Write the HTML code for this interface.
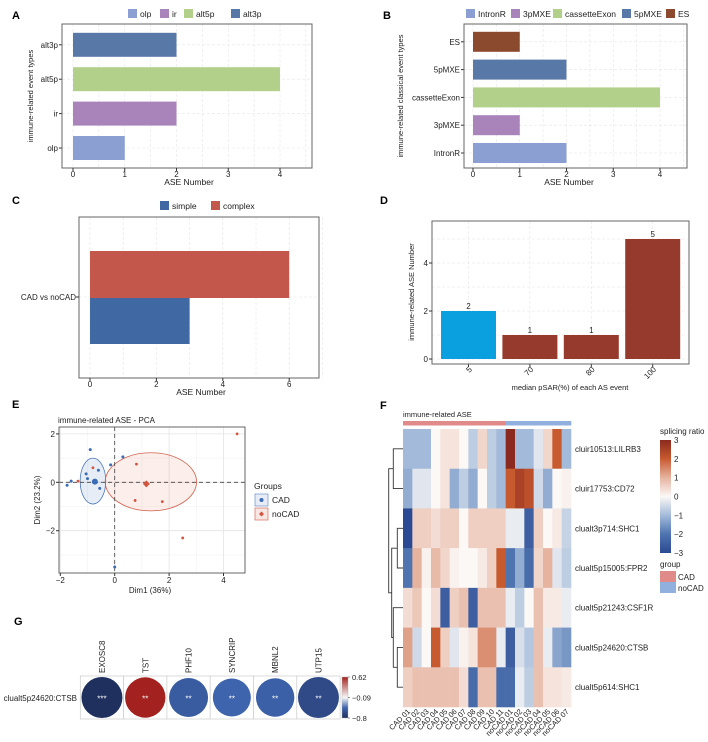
<!DOCTYPE html>
<html><head><meta charset="utf-8"><style>
html,body{margin:0;padding:0;background:#fff;}
svg{display:block;font-family:"Liberation Sans",Arial,sans-serif;}
</style></head><body>
<svg id="fig" width="708" height="742" viewBox="0 0 708 742" xmlns="http://www.w3.org/2000/svg"></svg>
<script>
// ---------- data ----------
const aCats=['olp','ir','alt5p','alt3p'];
const aVals=[1,2,4,2];
const aTicks=[0,1,2,3,4];
const bCats=['IntronR','3pMXE','cassetteExon','5pMXE','ES'];
const bVals=[2,1,4,2,1];
const bTicks=[0,1,2,3,4];
const cGroups=['simple','complex'];
const cVals=[3,6];
const cTicks=[0,2,4,6];
const dCats=['5','70','80','100'];
const dVals=[2,1,1,5];
const dTicks=[0,2,4];
const eCadX=[-1.75,-1.6,-0.9,-1.05,-1.0,-0.75,-0.6,-0.55,-0.15,0.3,0,-0.7];
const eCadY=[-0.12,0.05,1.35,0.35,0.15,0.05,0.5,-0.25,0.72,1.05,-3.5,0.0];
const eNoX=[4.5,2.5,0.8,0.75,1.75,-0.8,-1.35];
const eNoY=[2.0,-2.3,0.75,-0.75,-0.8,0.6,0.05];
const eXTicks=[-2,0,2,4];
const eYTicks=[-2,0,2];
const fRows=['cluir10513:LILRB3','cluir17753:CD72','clualt3p714:SHC1','clualt5p15005:FPR2','clualt5p21243:CSF1R','clualt5p24620:CTSB','clualt5p614:SHC1'];
const fCols=['CAD 01','CAD 02','CAD 03','CAD 04','CAD 05','CAD 06','CAD 07','CAD 08','CAD 09','CAD 10','CAD 11','noCAD 01','noCAD 02','noCAD 03','noCAD 04','noCAD 05','noCAD 06','noCAD 07'];
const fR1=[-1,-1,-1,0,0.3,0.3,0,-0.7,0.5,-0.7,-1,3,-1,-1,-0.3,0.5,2,-1];
const fR2=[-1.2,-0.3,-0.3,0,0.3,-1.2,-0.7,-1.2,0,-0.7,-1,2,2.5,2.2,-0.5,-1.2,0,0.1];
const fR3=[-3,0.6,0.6,0.4,0.6,0.6,0,0.6,0.6,0.6,0.6,-0.2,-0.2,-2.5,0.6,0,0.2,-0.6];
const fR4=[-2,1,0.1,0.9,0.5,0.1,0,0,0.2,0.6,2,-2,-1.2,-2.2,0.5,1,-0.3,-0.7];
const fR5=[0.4,0.7,0,0.4,-2.5,0.6,0.8,-2.5,0.8,0.8,0.8,-0.2,-0.7,0,0.8,0.2,0.2,-0.2];
const fR6=[1.2,-0.5,0,2,0.6,-0.3,0.1,0.3,1.4,1.4,-0.2,-2.5,-0.4,-0.8,0.8,-0.2,-1.3,-1.5];
const fR7=[0.6,0.8,0.8,0.8,0.8,0.8,0.4,-2.2,0.8,0.8,-2.2,-2.2,-0.2,-0.7,0.8,0.3,0.3,0.2];
const fLegendTicks=[3,2,1,0,-1,-2,-3];
const gGenes=['EXOSC8','TST','PHF10','SYNCRIP','MBNL2','UTP15'];
const gCorr=[-0.8,0.62,-0.55,-0.5,-0.52,-0.65];
const gSig=['***','**','**','**','**','**'];
const gTicks=[0.62,-0.09,-0.8];

// ---------- helpers ----------
const NS='http://www.w3.org/2000/svg';
const svg=document.getElementById('fig');
function mk(tag,attrs,parent){const e=document.createElementNS(NS,tag);for(const k in attrs)e.setAttribute(k,attrs[k]);(parent||svg).appendChild(e);return e;}
function tx(x,y,s,size,anchor,extra){const e=mk('text',Object.assign({x:x,y:y,'font-size':size,'text-anchor':anchor||'start',fill:'#222'},extra||{}));e.textContent=s;return e;}
function hex(c){return [parseInt(c.slice(1,3),16),parseInt(c.slice(3,5),16),parseInt(c.slice(5,7),16)];}
function lerpStops(stops,cols,v){if(v<=stops[0])return cols[0];for(let i=1;i<stops.length;i++){if(v<=stops[i]){const t=(v-stops[i-1])/(stops[i]-stops[i-1]);const a=hex(cols[i-1]),b=hex(cols[i]);return 'rgb('+a.map((q,j)=>Math.round(q+(b[j]-q)*t)).join(',')+')';}}return cols[cols.length-1];}
function panelBox(x1,y1,x2,y2,name){const e=mk('rect',{x:x1,y:y1,width:x2-x1,height:y2-y1,fill:'none',stroke:'#666','stroke-width':1});return e;}
function letter(x,y,s){const e=tx(x,y,s,11,'start',{'font-weight':'bold',fill:'#000'});}

// ---------- Panel A ----------
letter(12,19,'A');
const aCol=['#8b9fd2','#a884bb','#b3d08a','#5878a8'];
const xA=v=>73+v*51.75, yA=i=>148-i*34.4;
for(let v=0;v<=4.5;v+=0.5){const g=mk('line',{x1:xA(v),x2:xA(v),y1:24,y2:168,stroke:'#e6e6e6','stroke-dasharray':'3,2','stroke-width':0.6});}
aCats.forEach((c,i)=>{const g=mk('line',{x1:62,x2:312,y1:yA(i),y2:yA(i),stroke:'#e6e6e6','stroke-dasharray':'3,2','stroke-width':0.6});});
aCats.forEach((c,i)=>{const b=mk('rect',{x:xA(0),y:yA(i)-12,width:xA(aVals[i])-xA(0),height:24,fill:aCol[i]});
 const t=tx(58,yA(i)+3,c,8,'end');
 mk('line',{x1:59,x2:62,y1:yA(i),y2:yA(i),stroke:'#333'});});
panelBox(62,24,312,168,'a-plot-frame');
aTicks.forEach(v=>{const t=tx(xA(v),177,String(v),8,'middle');mk('line',{x1:xA(v),x2:xA(v),y1:168,y2:171,stroke:'#333'});});
{const t=tx(189,185,'ASE Number',8.5,'middle');
 const y=tx(0,0,'immune-related event types',7.5,'middle',{transform:'translate(33,96) rotate(-90)'});}
{const lx=[128,160,184,231];aCats.forEach((c,i)=>{const r=mk('rect',{x:lx[i],y:9,width:9,height:9,fill:aCol[i]});const t=tx(lx[i]+12,17,c,8.5);});}

// ---------- Panel B ----------
letter(383,19,'B');
const bCol=['#8b9fd2','#a884bb','#b3d08a','#5878a8','#8b4a2e'];
const xB=v=>473+v*46.75, yB=i=>153-i*27.8;
for(let v=0;v<=4.5;v+=0.5){const g=mk('line',{x1:xB(v),x2:xB(v),y1:24,y2:168,stroke:'#e6e6e6','stroke-dasharray':'3,2','stroke-width':0.6});}
bCats.forEach((c,i)=>{const g=mk('line',{x1:464,x2:687,y1:yB(i),y2:yB(i),stroke:'#e6e6e6','stroke-dasharray':'3,2','stroke-width':0.6});});
bCats.forEach((c,i)=>{const b=mk('rect',{x:xB(0),y:yB(i)-10,width:xB(bVals[i])-xB(0),height:20,fill:bCol[i]});
 const t=tx(460,yB(i)+3,c,8,'end');
 mk('line',{x1:461,x2:464,y1:yB(i),y2:yB(i),stroke:'#333'});});
panelBox(464,24,687,168,'b-plot-frame');
bTicks.forEach(v=>{const t=tx(xB(v),177,String(v),8,'middle');mk('line',{x1:xB(v),x2:xB(v),y1:168,y2:171,stroke:'#333'});});
{const t=tx(569,185,'ASE Number',8.5,'middle');
 const y=tx(0,0,'immune-related classical event types',7.5,'middle',{transform:'translate(403,96) rotate(-90)'});}
{const lx=[466,511,553,622,666];bCats.forEach((c,i)=>{const r=mk('rect',{x:lx[i],y:9,width:9,height:9,fill:bCol[i]});const t=tx(lx[i]+12,17,c,8.5);});}

// ---------- Panel C ----------
letter(12,204,'C');
const cCol=['#4068a2','#c4574b'];
const xC=v=>90+v*33.2;
for(let v=0;v<=7;v+=1){const g=mk('line',{x1:xC(v),x2:xC(v),y1:217,y2:378,stroke:'#e6e6e6','stroke-dasharray':'3,2','stroke-width':0.6});}
{const g=mk('line',{x1:79,x2:319,y1:297,y2:297,stroke:'#e6e6e6','stroke-dasharray':'3,2','stroke-width':0.6});}
cGroups.forEach((c,i)=>{const y0=i===1?251:297;const b=mk('rect',{x:xC(0),y:y0,width:xC(cVals[i])-xC(0),height:47,fill:cCol[i]});});
panelBox(79,217,319,378,'c-plot-frame');
{const t=tx(76,300,'CAD vs noCAD',8,'end');mk('line',{x1:76,x2:79,y1:297,y2:297,stroke:'#333'});}
cTicks.forEach(v=>{const t=tx(xC(v),387,String(v),8,'middle');mk('line',{x1:xC(v),x2:xC(v),y1:378,y2:381,stroke:'#333'});});
{const t=tx(201,395,'ASE Number',8.5,'middle');}
{const lx=[160,211];cGroups.forEach((c,i)=>{const r=mk('rect',{x:lx[i],y:201,width:9,height:9,fill:cCol[i]});const t=tx(lx[i]+12,209,c,8.5);});}

// ---------- Panel D ----------
letter(380,204,'D');
const dCol=['#0aa0e0','#953a2c','#953a2c','#953a2c'];
const yD=v=>359-v*24, xD=i=>468.5+i*61.4;
for(let v=0;v<=5;v+=1){const g=mk('line',{x1:432,x2:689,y1:yD(v),y2:yD(v),stroke:'#e6e6e6','stroke-dasharray':'3,2','stroke-width':0.6});}
dCats.forEach((c,i)=>{const g=mk('line',{x1:xD(i),x2:xD(i),y1:221,y2:364,stroke:'#e6e6e6','stroke-dasharray':'3,2','stroke-width':0.6});});
dCats.forEach((c,i)=>{const b=mk('rect',{x:xD(i)-27.5,y:yD(dVals[i]),width:55,height:yD(0)-yD(dVals[i]),fill:dCol[i]});
 const v=tx(xD(i),yD(dVals[i])-2,String(dVals[i]),8,'middle');
 const t=tx(0,0,c,8,'end',{transform:'translate('+(xD(i)+4)+',370) rotate(-45)'});
 mk('line',{x1:xD(i),x2:xD(i),y1:364,y2:367,stroke:'#333'});});
panelBox(432,221,689,364,'d-plot-frame');
dTicks.forEach(v=>{const t=tx(428,yD(v)+3,String(v),8,'end');mk('line',{x1:429,x2:432,y1:yD(v),y2:yD(v),stroke:'#333'});});
{const t=tx(570,390,'median pSAR(%) of each AS event',7.5,'middle');
 const y=tx(0,0,'immune-related ASE Number',7.5,'middle',{transform:'translate(414,292) rotate(-90)'});}

// ---------- Panel E ----------
letter(12,408,'E');
const xE=v=>114.7+v*27.2, yE=v=>482.3-v*24.2;
{const t=tx(58,423,'immune-related ASE - PCA',8,'start');}
{const clip=mk('clipPath',{id:'eclip'});mk('rect',{x:59,y:427,width:186,height:146},clip);}
const eG=mk('g',{'clip-path':'url(#eclip)'});

[-3,-1,1,3].forEach(v=>{const g=mk('line',{x1:xE(v),x2:xE(v),y1:427,y2:573,stroke:'#f2f2f2','stroke-width':0.6},eG);});
[-3,-1,1].forEach(v=>{const g=mk('line',{x1:59,x2:245,y1:yE(v),y2:yE(v),stroke:'#f2f2f2','stroke-width':0.6},eG);});
eXTicks.forEach(v=>{const g=mk('line',{x1:xE(v),x2:xE(v),y1:427,y2:573,stroke:'#e4e4e4','stroke-width':0.8},eG);});
eYTicks.forEach(v=>{const g=mk('line',{x1:59,x2:245,y1:yE(v),y2:yE(v),stroke:'#e4e4e4','stroke-width':0.8},eG);});
{const el1=mk('ellipse',{cx:xE(-0.8),cy:yE(0.05),rx:0.47*27.2,ry:0.95*24.2,fill:'#3a6db5','fill-opacity':0.12,stroke:'#4a78bd','stroke-width':0.8},eG);
 const el2=mk('ellipse',{cx:xE(1.33),cy:yE(0.02),rx:1.68*27.2,ry:1.2*24.2,fill:'#d4553f','fill-opacity':0.1,stroke:'#d4604c','stroke-width':0.8},eG);}
{const h=mk('line',{x1:59,x2:245,y1:yE(0),y2:yE(0),stroke:'#444','stroke-dasharray':'4,3','stroke-width':0.8},eG);
 const v=mk('line',{x1:xE(0),x2:xE(0),y1:427,y2:573,stroke:'#444','stroke-dasharray':'4,3','stroke-width':0.8},eG);}
eCadX.forEach((x,i)=>{const p=mk('circle',{cx:xE(x),cy:yE(eCadY[i]),r:1.5,fill:'#3a6db5'},eG);});
eNoX.forEach((x,i)=>{const p=mk('circle',{cx:xE(x),cy:yE(eNoY[i]),r:1.4,fill:'#d4553f'},eG);});
{const mcx=eCadX.reduce((a,b)=>a+b,0)/eCadX.length, mcy=eCadY.reduce((a,b)=>a+b,0)/eCadY.length;
 const m1=mk('circle',{cx:xE(mcx),cy:yE(mcy),r:3,fill:'#3a6db5'},eG);
 const mnx=eNoX.reduce((a,b)=>a+b,0)/eNoX.length, mny=eNoY.reduce((a,b)=>a+b,0)/eNoY.length;
 const m2=mk('path',{d:'M'+xE(mnx)+','+(yE(mny)-3.5)+'l3.5,3.5l-3.5,3.5l-3.5,-3.5z',fill:'#d4553f'},eG);}
panelBox(59,427,245,573,'e-plot-frame');
eXTicks.forEach(v=>{const t=tx(xE(v),583,v<0?'\u2212'+(-v):String(v),8,'middle');mk('line',{x1:xE(v),x2:xE(v),y1:573,y2:576,stroke:'#333'});});
eYTicks.forEach(v=>{const t=tx(55,yE(v)+3,v<0?'\u2212'+(-v):String(v),8,'end');mk('line',{x1:56,x2:59,y1:yE(v),y2:yE(v),stroke:'#333'});});
{const t=tx(150,593,'Dim1 (36%)',8,'middle');
 const y=tx(0,0,'Dim2 (23.2%)',8,'middle',{transform:'translate(40,500) rotate(-90)'});
 const g=tx(254,489,'Groups',8.5);
 const b1=mk('rect',{x:255,y:494,width:13,height:12,fill:'#e7ecf6',stroke:'#6d8fcb','stroke-width':0.7});
 mk('circle',{cx:261.5,cy:500,r:2,fill:'#3a6db5'});
 const l1=tx(272,503,'CAD',8.5);
 const b2=mk('rect',{x:255,y:508,width:13,height:12,fill:'#f8e6e2',stroke:'#d77060','stroke-width':0.7});
 mk('path',{d:'M261.5,511.5l2.5,2.5l-2.5,2.5l-2.5,-2.5z',fill:'#d4553f'});
 const l2=tx(272,517,'noCAD',8.5);}

// ---------- Panel F ----------
letter(380,409,'F');
const fData=[fR1,fR2,fR3,fR4,fR5,fR6,fR7];
const hmStops=[-3,-2,-1,0,1,2,3];
const hmCols=['#2b4a93','#4f74b0','#a3bada','#fbf8f6','#e6b39f','#c85a30','#8a2a1e'];
const fx0=403, fcw=168/18, fy0=429, frh=278/7;
{const t=tx(403,417,'immune-related ASE',7.5);}
fCols.forEach((c,j)=>{const a=mk('rect',{x:fx0+j*fcw,y:421,width:fcw+0.3,height:4.5,fill:c.startsWith('CAD')?'#e08a8a':'#92b0dd'});});
fData.forEach((row,i)=>{row.forEach((v,j)=>{const r=mk('rect',{x:fx0+j*fcw,y:fy0+i*frh,width:fcw+0.3,height:frh+0.3,fill:lerpStops(hmStops,hmCols,v)});});
 const t=tx(575,fy0+(i+0.5)*frh+3,fRows[i],8);});
fCols.forEach((c,j)=>{const t=tx(0,0,c,7.5,'end',{transform:'translate('+(fx0+(j+0.5)*fcw+3)+',712) rotate(-45)'});});
{const rc=i=>fy0+(i+0.5)*frh;const d='M403,'+rc(0)+'H393.3V'+rc(1)+'H403'+
 ' M403,'+rc(2)+'H397.3V'+rc(3)+'H403'+
 ' M403,'+rc(5)+'H397.3V'+rc(6)+'H403'+
 ' M403,'+rc(4)+'H393.3V'+((rc(5)+rc(6))/2)+'H397.3'+
 ' M397.3,'+((rc(2)+rc(3))/2)+'H391.7V'+((rc(4)+(rc(5)+rc(6))/2)/2)+'H393.3'+
 ' M393.3,'+((rc(0)+rc(1))/2)+'H388.7V'+(((rc(2)+rc(3))/2+(rc(4)+(rc(5)+rc(6))/2)/2)/2)+'H391.7';
 const p=mk('path',{d:d,fill:'none',stroke:'#333','stroke-width':0.9});}
{const t=tx(660,434,'splicing ratio',8);
 const defs=mk('defs',{});const lg=mk('linearGradient',{id:'hmg',x1:0,y1:0,x2:0,y2:1},defs);
 hmCols.slice().reverse().forEach((c,k)=>{mk('stop',{offset:(k/6),'stop-color':c},lg);});
 const cb=mk('rect',{x:660,y:440,width:11,height:113,fill:'url(#hmg)'});
 fLegendTicks.forEach(v=>{const y=440+(3-v)/6*113;const l=tx(674,y+3,v<0?'\u2212'+(-v):String(v),8);});
 const g=tx(660,567,'group',8);
 const r1=mk('rect',{x:660,y:571,width:16,height:11,fill:'#e08a8a'});
 const t1=tx(678,580,'CAD',8);
 const r2=mk('rect',{x:660,y:582,width:16,height:11,fill:'#92b0dd'});
 const t2=tx(678,591,'noCAD',8);}

// ---------- Panel G ----------
letter(14,625,'G');
const gStops=[-0.8,-0.09,0.62];
const gCols=['#1f2f5e','#f7f7f7','#a3221f'];
const gColFn=v=>v<-0.09?lerpStops([-0.8,-0.5,-0.09],['#1f2f5e','#3e64ad','#f7f7f7'],v):lerpStops([-0.09,0.62],['#f7f7f7','#a3221f'],v);
const gx0=80.3, gcw=43.3, gy0=676, gch=43;
{const t=tx(77,701,'clualt5p24620:CTSB',8,'end');}
gGenes.forEach((gn,i)=>{const cx=gx0+(i+0.5)*gcw, cy=gy0+gch/2;
 const c=mk('rect',{x:gx0+i*gcw,y:gy0,width:gcw,height:gch,fill:'#fff',stroke:'#ccc','stroke-width':0.7});
 const r=14+8*Math.abs(gCorr[i])/0.8;
 const ci=mk('circle',{cx:cx,cy:cy,r:Math.min(r,20.5),fill:gColFn(gCorr[i])});
 const s=tx(cx,cy+4,gSig[i],8,'middle',{fill:'#fff'});
 const l=tx(0,0,gn,8,'start',{transform:'translate('+(cx+3)+',673) rotate(-90)'});});
{const defs=mk('defs',{});const lg=mk('linearGradient',{id:'gg',x1:0,y1:0,x2:0,y2:1},defs);
 mk('stop',{offset:0,'stop-color':'#a3221f'},lg);mk('stop',{offset:0.5,'stop-color':'#f7f7f7'},lg);mk('stop',{offset:0.75,'stop-color':'#3e64ad'},lg);mk('stop',{offset:1,'stop-color':'#1f2f5e'},lg);
 const cb=mk('rect',{x:342,y:677,width:6,height:41,fill:'url(#gg)',stroke:'#aaa','stroke-width':0.4});
 gTicks.forEach(v=>{const y=677+(0.62-v)/1.42*41;mk('line',{x1:348,x2:350,y1:y,y2:y,stroke:'#333','stroke-width':0.5});const t=tx(352,y+3,v<0?'\u2212'+(-v):String(v),7.5);});}
</script>
</body></html>
